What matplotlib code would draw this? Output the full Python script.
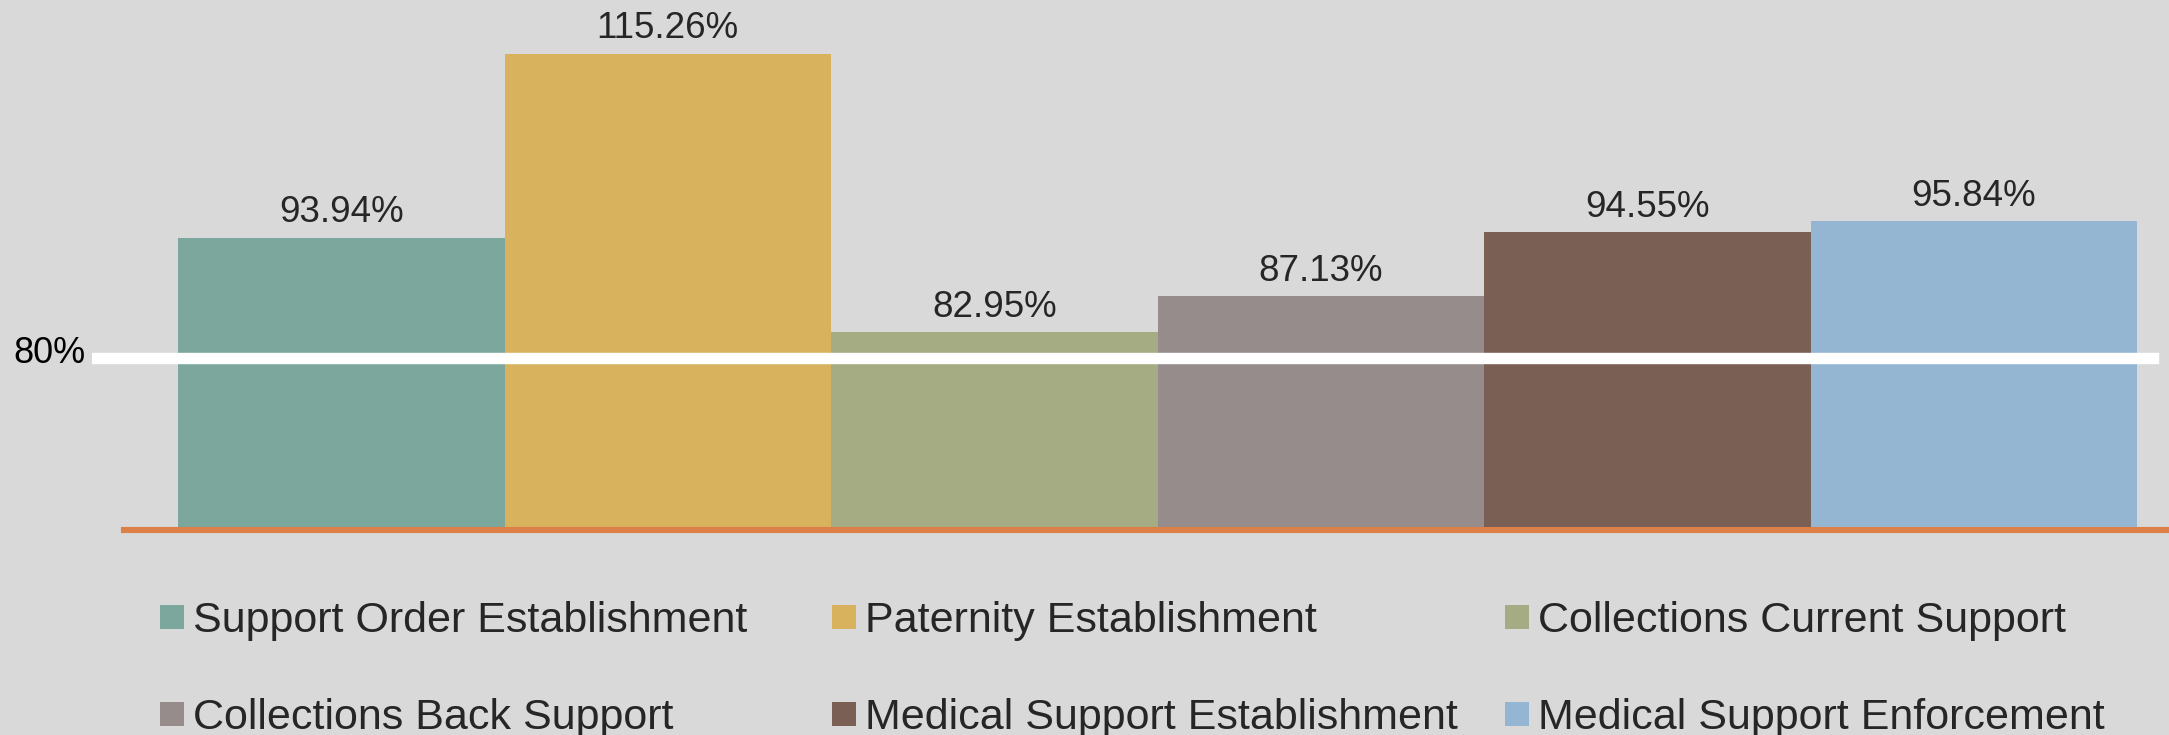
import matplotlib.pyplot as plt
from matplotlib.patches import Rectangle
import numpy as np

plt.rcParams['font.family'] = ['Liberation Sans', 'DejaVu Sans']

categories = [
    "Support Order Establishment",
    "Paternity Establishment",
    "Collections Current Support",
    "Collections Back Support",
    "Medical Support Establishment",
    "Medical Support Enforcement",
]
performance = [93.94, 115.26, 82.95, 87.13, 94.55, 95.84]
target = 80
colors = ["#7CA79D", "#D9B25E", "#A5AB82", "#968C8B", "#7A5F55", "#94B6D3"]

W, H = 2169, 735
bg = "#D9D9D9"

fig = plt.figure(figsize=(W / 100, H / 100), dpi=100, facecolor=bg)
ax = fig.add_axes([92 / W, (H - 530) / H, 1 - 92 / W, 530 / H])
ax.set_facecolor(bg)

x = np.arange(len(categories))
ax.bar(x, performance, width=1.0, color=colors, zorder=2)

for xi, v in zip(x, performance):
    ax.annotate(f"{v:.2f}%", (xi, v), xytext=(0, 11), textcoords="offset points",
                ha="center", va="baseline", fontsize=26.5, color="#262626")

# target line and baseline
ax.axhline(target, xmin=0, xmax=(2153 - 92) / (W - 92), color="white", lw=8.2, zorder=3)
ax.axhline(60, xmin=(124 - 92) / (W - 92), xmax=1, color="#DD8047", lw=4.4, zorder=4,
           clip_on=False)
ax.text(-0.003, target + 0.5, f"{target}%", transform=ax.get_yaxis_transform(),
        ha="right", va="center", fontsize=26, color="black")

ax.set_xlim(-0.5 - 86 / 326.5, 5.5 + 32 / 326.5)
ax.set_ylim(60, 121.5)
ax.axis("off")

# legend, three equal columns
col_x = [160, 832, 1505]
row_y = [617, 714]
box = 24
for i, (name, c) in enumerate(zip(categories, colors)):
    cx = col_x[i % 3]
    cy = row_y[i // 3]
    fig.add_artist(Rectangle((cx / W, (H - cy - box / 2) / H), box / W, box / H,
                             transform=fig.transFigure, facecolor=c, edgecolor="none"))
    fig.text((cx + 33) / W, (H - cy - 15) / H, name, fontsize=31,
             color="#262626", va="baseline", ha="left")

fig.savefig("out.png", dpi=100, facecolor=bg)
